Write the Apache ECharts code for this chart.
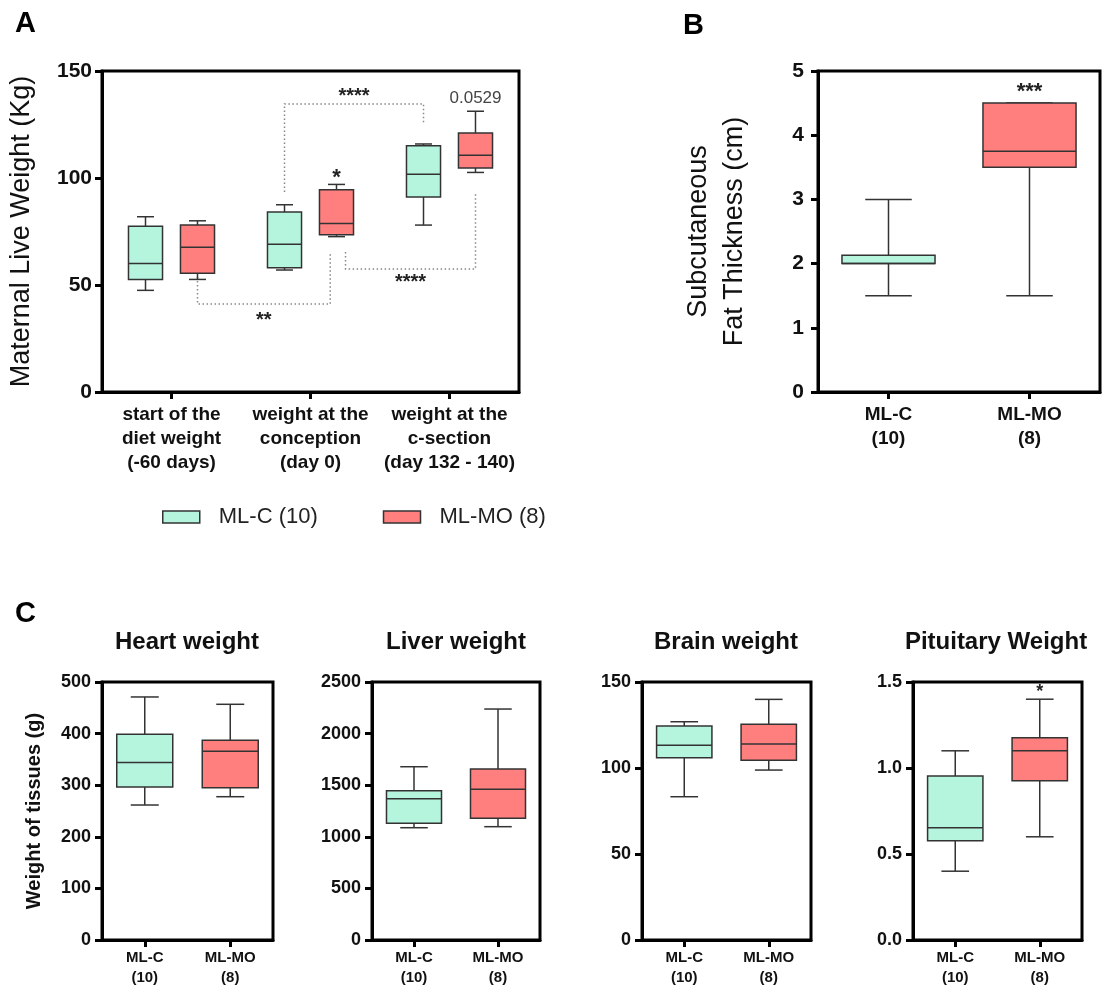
<!DOCTYPE html>
<html><head><meta charset="utf-8">
<script src="https://cdn.jsdelivr.net/npm/echarts@6/dist/echarts.min.js"></script>
<style>html,body{margin:0;padding:0;background:#fff}#c{width:1106px;height:986px}</style>
</head><body><div id="c"></div><script>
// ---------- data ----------
const groups = ['ML-C (10)', 'ML-MO (8)'];
const groupTicks = ['ML-C\n(10)', 'ML-MO\n(8)'];
const timepoints = ['start of the\ndiet weight\n(-60 days)', 'weight at the\nconception\n(day 0)', 'weight at the\nc-section\n(day 132 - 140)'];
// box stats: [min, Q1, median, Q3, max]
const weightC  = [[47.5, 52.6, 60.1, 77.4, 81.9], [57.0, 58.1, 69.0, 84.1, 87.5], [78.0, 91.1, 101.7, 115.1, 115.9]];
const weightMO = [[52.6, 55.5, 67.6, 78.0, 80.0], [72.6, 73.5, 78.7, 94.5, 97.0], [102.6, 104.7, 110.6, 121.0, 131.2]];
const fatThickness = [[1.5, 2.0, 2.0, 2.13, 3.0], [1.5, 3.5, 3.75, 4.5, 4.5]];
const heartWeight = [[261.6, 296.5, 344, 398.6, 471], [277.7, 295, 365.7, 387, 456.8]];
const liverWeight = [[1088, 1131, 1369, 1447, 1679], [1098, 1179, 1460, 1657, 2238]];
const brainWeight = [[83.3, 106, 113.2, 124.4, 126.9], [98.8, 104.5, 114, 125.4, 139.9]];
const pituitaryWeight = [[0.40, 0.577, 0.653, 0.953, 1.10], [0.60, 0.926, 1.10, 1.176, 1.40]];
const tissueTitles = ['Heart weight', 'Liver weight', 'Brain weight', 'Pituitary Weight'];
const tissueMax = [500, 2500, 150, 1.5];
const tissueStep = [100, 500, 50, 0.5];
// significance labels: [category, group, value, text]
const sigA = [[1, 1, 100.0, '*'], [2, 1, 137.4, '0.0529']];
const sigB = [[1, 1, 4.68, '***']];
const sigPit = [[1, 1, 1.44, '*']];
// brackets (panel A): vertices [category, group, value], label value
const bracketsA = [
  {label: '****', labelValue: 138, path: [[1, 0, 93.4], [1, 0, 134.6], [2, 0, 134.6], [2, 0, 125.5]]},
  {label: '**', labelValue: 33.5, path: [[0, 1, 53.7], [0, 1, 41.1], [1, 1, 41.1], [1, 1, 65.4]]},
  {label: '****', labelValue: 51.2, path: [[1, 1, 65.4], [1, 1, 57.5], [2, 1, 57.5], [2, 1, 93.5]]}
];

// ---------- style ----------
const FONT = "'Liberation Sans', Arial, Helvetica, sans-serif";
const COLORS = ['#b5f5de', '#ff7f7f'];
const EDGE = '#333';
const bracketNudge = [[0, 0, 0, 0], [0, 0, -0.045, -0.045], [0.065, 0.065, 0, 0]];

function boxRender(widthFrac, offsets) {
  return function (params, api) {
    const cat = api.value(0), g = api.value(1);
    const band = api.size([1, 0])[0];
    const w = widthFrac * band;
    const cx = api.coord([cat, 0])[0] + offsets[g] * band;
    const y = k => api.coord([cat, api.value(2 + k)])[1];
    const ymin = y(0), yq1 = y(1), ymed = y(2), yq3 = y(3), ymax = y(4);
    const ls = {stroke: EDGE, lineWidth: 1.5};
    return {type: 'group', children: [
      {type: 'line', shape: {x1: cx, y1: ymax, x2: cx, y2: ymin}, style: ls},
      {type: 'line', shape: {x1: cx - w / 4, y1: ymax, x2: cx + w / 4, y2: ymax}, style: ls},
      {type: 'line', shape: {x1: cx - w / 4, y1: ymin, x2: cx + w / 4, y2: ymin}, style: ls},
      {type: 'rect', shape: {x: cx - w / 2, y: yq3, width: w, height: yq1 - yq3}, style: {fill: COLORS[g], stroke: EDGE, lineWidth: 1.5}},
      {type: 'line', shape: {x1: cx - w / 2, y1: ymed, x2: cx + w / 2, y2: ymed}, style: ls}
    ]};
  };
}

function textRender(offsets, font) {
  return function (params, api) {
    const cat = api.value(0), g = api.value(1);
    const band = api.size([1, 0])[0];
    const p = api.coord([cat, api.value(2)]);
    const txt = api.value(3);
    const isNum = /[0-9]/.test(txt);
    return {type: 'text', x: p[0] + offsets[g] * band, y: p[1], style: {
      text: txt, fill: isNum ? '#444' : '#222', align: 'center', verticalAlign: 'middle',
      fontFamily: FONT, fontSize: isNum ? 17 : font, fontWeight: isNum ? 'normal' : 'bold'}};
  };
}

const offA = [-0.187, 0.187];
function bracketRender(params, api) {
  const b = bracketsA[params.dataIndex];
  const band = api.size([1, 0])[0];
  const pts = b.path.map((v, i) => {
    const c = api.coord([v[0], v[2]]);
    return [c[0] + (offA[v[1]] + bracketNudge[params.dataIndex][i]) * band, c[1]];
  });
  const ly = api.coord([0, b.labelValue])[1];
  const lx = (pts[1][0] + pts[2][0]) / 2;
  return {type: 'group', children: [
    {type: 'polyline', shape: {points: pts}, style: {stroke: '#888', lineWidth: 1.5, lineDash: [1.5, 2.5], fill: null}},
    {type: 'text', x: lx, y: ly, style: {text: b.label, fill: '#222', align: 'center', verticalAlign: 'middle', fontFamily: FONT, fontSize: 20, fontWeight: 'bold'}}
  ]};
}

const axisLineStyle = {color: '#000', width: 3};
function xAx(gridIndex, data, fontSize, lineHeight, margin) {
  return {type: 'category', gridIndex, data, boundaryGap: true,
    axisLine: {show: true, lineStyle: axisLineStyle},
    axisTick: {show: true, alignWithLabel: true, interval: 0, length: 7, lineStyle: axisLineStyle},
    axisLabel: {interval: 0, fontFamily: FONT, fontSize, fontWeight: 'bold', color: '#111', lineHeight, margin},
    splitLine: {show: false}};
}
function yAx(gridIndex, max, interval, fontSize, margin, name, nameGap, nameStyle, fmt) {
  return {type: 'value', gridIndex, min: 0, max, interval,
    axisLine: {show: true, lineStyle: axisLineStyle},
    axisTick: {show: true, length: 7, lineStyle: axisLineStyle},
    splitLine: {show: false},
    axisLabel: {fontFamily: FONT, fontSize, fontWeight: 'bold', color: '#111', margin, formatter: fmt || (v => String(v))},
    name, nameLocation: 'middle', nameRotate: 90, nameGap,
    nameTextStyle: Object.assign({fontFamily: FONT, color: '#111'}, nameStyle)};
}

const grids = [
  {left: 102, top: 71, width: 417, height: 321},
  {left: 818, top: 71, width: 282, height: 321},
  {left: 102, top: 682, width: 171, height: 258},
  {left: 372, top: 682, width: 168, height: 258},
  {left: 642, top: 682, width: 169, height: 258},
  {left: 913, top: 682, width: 169, height: 258}
].map(g => Object.assign({show: true, borderColor: '#000', borderWidth: 3, containLabel: false, outerBoundsMode: 'none'}, g));

const xAxes = [
  xAx(0, timepoints, 19, 24, 11),
  xAx(1, groupTicks, 19, 24, 11)
];
const yAxes = [
  yAx(0, 150, 50, 21, 10, 'Maternal Live Weight (Kg)', 67, {fontSize: 27}),
  yAx(1, 5, 1, 21, 14, 'Subcutaneous\nFat Thickness (cm)', 65, {fontSize: 27, lineHeight: 36})
];
for (let i = 0; i < 4; i++) {
  xAxes.push(xAx(2 + i, groupTicks, 15, 20, 8));
  yAxes.push(yAx(2 + i, tissueMax[i], tissueStep[i], 18, 11,
    i === 0 ? 'Weight of tissues (g)' : '', 58, {fontSize: 20, fontWeight: 'bold'},
    i === 3 ? (v => v.toFixed(1)) : undefined));
}

const series = [];
const enc = {x: 0, y: [2, 3, 4, 5, 6]};
[weightC, weightMO].forEach((arr, g) => {
  series.push({type: 'custom', name: groups[g], xAxisIndex: 0, yAxisIndex: 0,
    renderItem: boxRender(0.245, offA), encode: enc, itemStyle: {color: COLORS[g], borderColor: EDGE, borderWidth: 1.5},
    data: arr.map((v, i) => [i, g].concat(v)), z: 3});
});
series.push({type: 'custom', name: 'Fat thickness', xAxisIndex: 1, yAxisIndex: 1,
  renderItem: boxRender(0.66, [0, 0]), encode: enc,
  data: fatThickness.map((v, g) => [g, g].concat(v)), z: 3});
[heartWeight, liverWeight, brainWeight, pituitaryWeight].forEach((arr, i) => {
  series.push({type: 'custom', name: tissueTitles[i], xAxisIndex: 2 + i, yAxisIndex: 2 + i,
    renderItem: boxRender(0.655, [0, 0]), encode: enc,
    data: arr.map((v, g) => [g, g].concat(v)), z: 3});
});
series.push({type: 'custom', name: 'sigA', xAxisIndex: 0, yAxisIndex: 0, renderItem: textRender(offA, 22),
  encode: {x: 0, y: 2}, data: sigA, z: 4, silent: true});
series.push({type: 'custom', name: 'sigB', xAxisIndex: 1, yAxisIndex: 1, renderItem: textRender([0, 0], 22),
  encode: {x: 0, y: 2}, data: sigB, z: 4, silent: true});
series.push({type: 'custom', name: 'sigPit', xAxisIndex: 5, yAxisIndex: 5, renderItem: textRender([0, 0], 18),
  encode: {x: 0, y: 2}, data: sigPit, z: 4, silent: true});
series.push({type: 'custom', name: 'brackets', xAxisIndex: 0, yAxisIndex: 0, renderItem: bracketRender,
  encode: {x: 0, y: 1}, data: bracketsA.map(b => [b.path[0][0], b.labelValue]), z: 2, silent: true});

const letterStyle = {fontFamily: FONT, fontSize: 29, fontWeight: 'bold', color: '#000', lineHeight: 29};
const tTitleStyle = {fontFamily: FONT, fontSize: 24, fontWeight: 'bold', color: '#111', lineHeight: 24};
const titleCenters = [187, 456, 726, 996];
const titles = [
  {text: 'A', left: 15, top: 9, padding: 0, textStyle: letterStyle},
  {text: 'B', left: 683, top: 11, padding: 0, textStyle: letterStyle},
  {text: 'C', left: 15, top: 599, padding: 0, textStyle: letterStyle}
];
tissueTitles.forEach((t, i) => titles.push({text: t, left: titleCenters[i], top: 630, padding: 0, textAlign: 'center', textStyle: tTitleStyle}));

const option = {
  backgroundColor: '#fff',
  animation: false,
  title: titles,
  legend: {data: groups, left: 162, top: 506, itemWidth: 37, itemHeight: 12, itemGap: 65, icon: 'rect',
    selectedMode: false, padding: 0,
    itemStyle: {borderColor: EDGE, borderWidth: 1.5},
    textStyle: {fontFamily: FONT, fontSize: 22, color: '#222', padding: [0, 0, 0, 14]}},
  grid: grids,
  xAxis: xAxes,
  yAxis: yAxes,
  series
};
const chart = echarts.init(document.getElementById('c'));
chart.setOption(option);
</script></body></html>
